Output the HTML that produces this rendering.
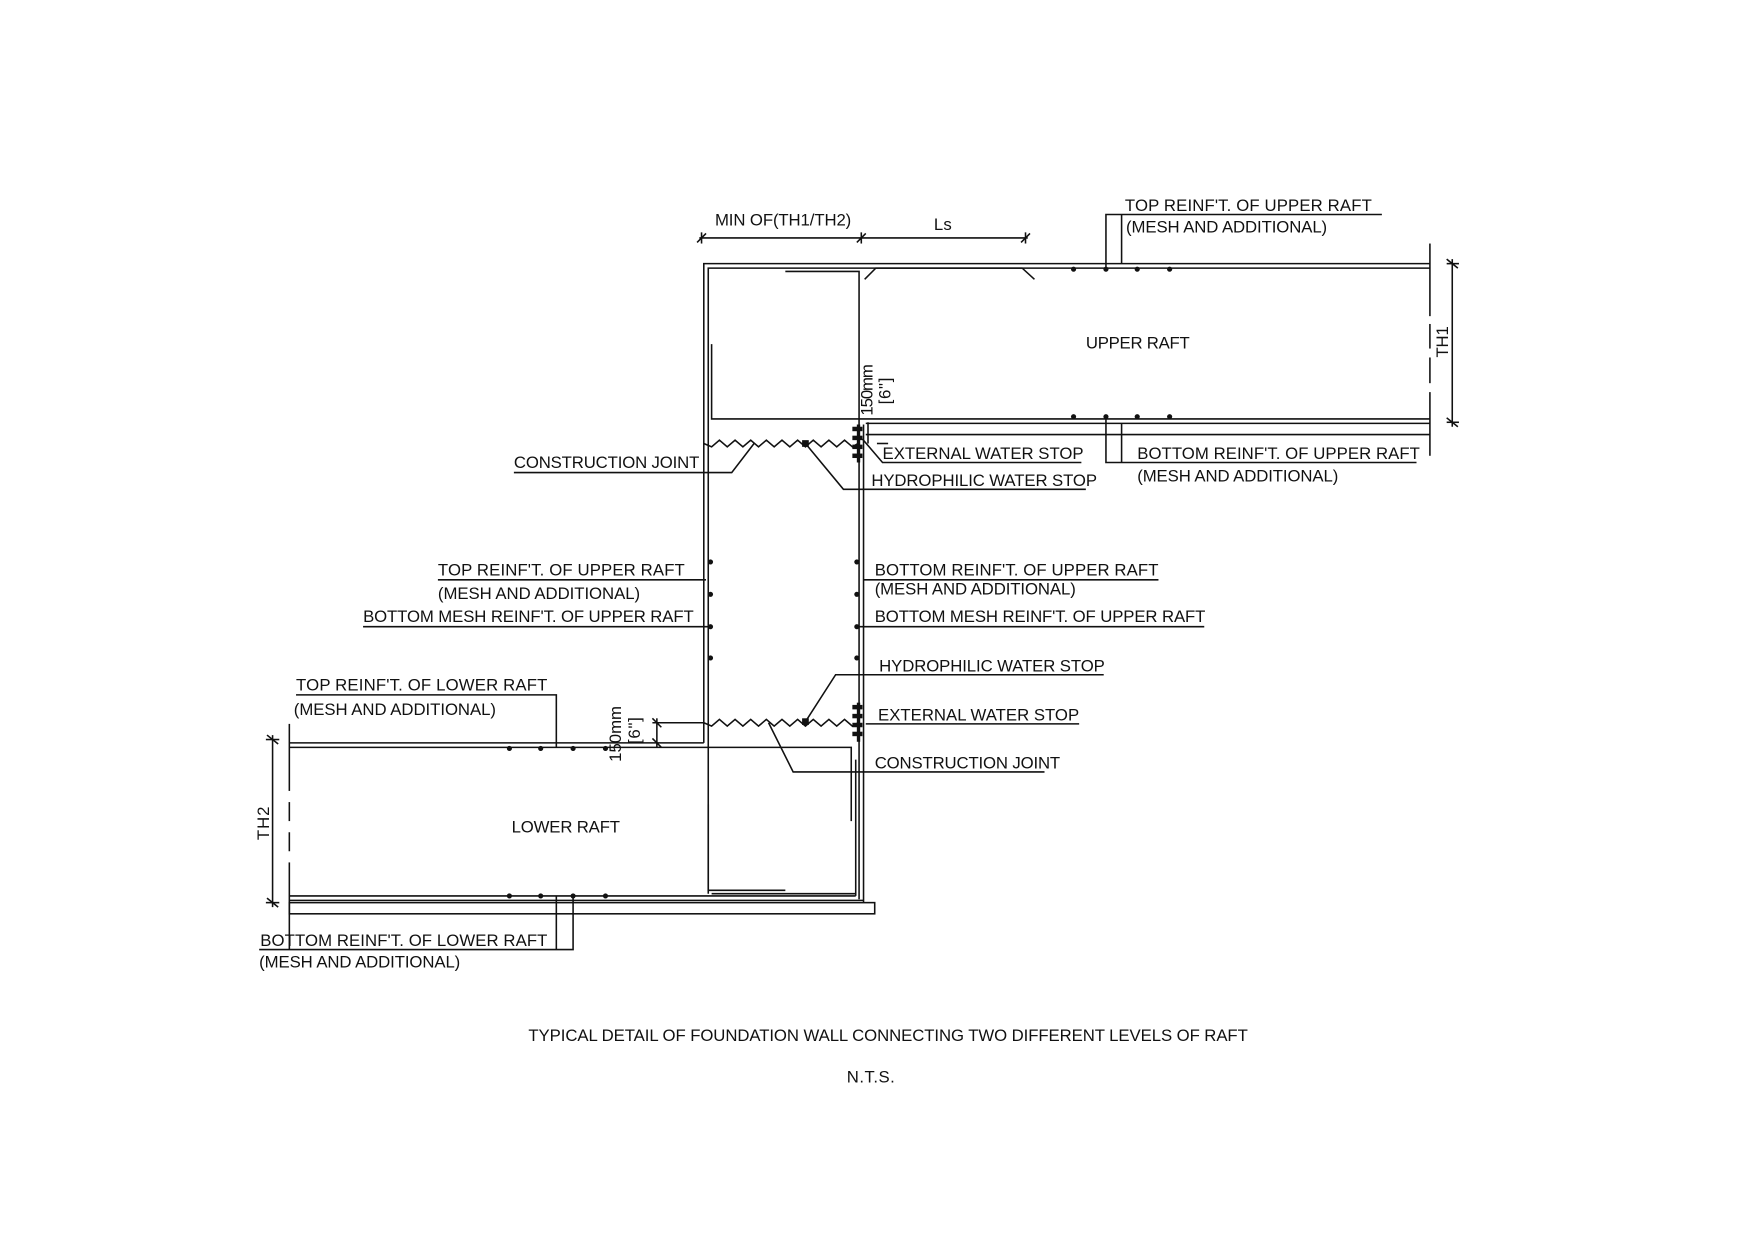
<!DOCTYPE html>
<html><head><meta charset="utf-8"><style>
html,body{margin:0;padding:0;background:#fff}
svg{display:block}
text{font-family:"Liberation Sans",Arial,sans-serif;font-size:15px;fill:#111}
</style></head><body>
<svg width="1755" height="1240" viewBox="0 0 1571 1110" xmlns="http://www.w3.org/2000/svg">
<rect width="1571" height="1110" fill="#fff"/>
<g stroke="#111" stroke-width="1.4" fill="none">
<!-- top dimension -->
<line x1="626" y1="213" x2="920" y2="213"/>
<line x1="624" y1="217" x2="632" y2="209"/><line x1="628" y1="208" x2="628" y2="218"/>
<line x1="767" y1="217" x2="775" y2="209"/><line x1="771" y1="208" x2="771" y2="218"/>
<line x1="914" y1="217" x2="922" y2="209"/><line x1="918" y1="208" x2="918" y2="218"/>
<!-- wall outer left & top -->
<polyline points="630,665 630,236 1280,236"/>
<polyline points="634,800 634,240 1280,240"/>
<!-- inner wall rect upper -->
<polyline points="637,308 637,375 769,375"/>
<polyline points="703,243 769,243 769,380"/>
<!-- top bar with hooks -->
<polyline points="774,250 784,240 915,240 926,250"/>
<!-- upper raft bottom lines -->
<line x1="769" y1="375" x2="1280" y2="375"/>
<line x1="775" y1="379" x2="1280" y2="379"/>
<line x1="775" y1="389" x2="1280" y2="389"/>
<!-- right end dashed -->
<line x1="1280" y1="218" x2="1280" y2="283"/>
<line x1="1280" y1="290" x2="1280" y2="312"/>
<line x1="1280" y1="320" x2="1280" y2="343"/>
<line x1="1280" y1="351" x2="1280" y2="408"/>
<!-- TH1 dim -->
<line x1="1300" y1="232" x2="1300" y2="382"/>
<line x1="1295" y1="232" x2="1305" y2="240"/><line x1="1295" y1="236" x2="1306" y2="236"/>
<line x1="1295" y1="374" x2="1305" y2="382"/><line x1="1295" y1="378" x2="1306" y2="378"/>
<!-- top leader -->
<polyline points="990,241 990,192 1237,192"/>
<line x1="1004" y1="192" x2="1004" y2="236"/>
<!-- bottom leader -->
<polyline points="990,373 990,414 1268,414"/>
<line x1="1004" y1="379" x2="1004" y2="414"/>
<!-- wall right lines -->
<line x1="769" y1="380" x2="769" y2="805"/>
<line x1="773" y1="380" x2="773" y2="808"/>
<!-- upper construction joint -->
<polyline points="630,397 637,400 644,394 651,400 658,394 665,400 672,394 679,400 686,394 693,400 700,394 707,400 714,394 721,400 728,394 735,400 742,394 749,400 756,394 763,400 768,397"/>
<polyline points="675,397 655,423 460,423"/>
<polyline points="721,397 755,438 972,438"/>
<polyline points="772,393 790,414 968,414"/>
<!-- 150mm dim upper -->
<line x1="777" y1="378" x2="777" y2="397"/>
<line x1="785" y1="397" x2="795" y2="397"/>
<!-- lower construction joint -->
<polyline points="630,647 637,650 644,644 651,650 658,644 665,650 672,644 679,650 686,644 693,650 700,644 707,650 714,644 721,650 728,644 735,650 742,644 749,650 756,644 763,650 768,647"/>
<polyline points="721,646 748,604 988,604"/>
<line x1="775" y1="648" x2="966" y2="648"/>
<polyline points="688,647 710,691 935,691"/>
<!-- 150mm dim lower -->
<line x1="584" y1="647" x2="630" y2="647"/>
<line x1="588" y1="643" x2="588" y2="669"/>
<line x1="584" y1="643" x2="592" y2="651"/><line x1="584" y1="661" x2="592" y2="669"/>
<!-- lower raft -->
<line x1="259" y1="665" x2="630" y2="665"/>
<polyline points="259,669 762,669 762,735"/>
<line x1="766" y1="680" x2="766" y2="802"/>
<line x1="259" y1="802" x2="766" y2="802"/>
<line x1="259" y1="806" x2="773" y2="806"/>
<rect x="259" y="808" width="524" height="10"/>
<polyline points="634,720 634,797 703,797"/>
<line x1="637" y1="800" x2="766" y2="800"/>
<!-- left end dashed -->
<line x1="259" y1="648" x2="259" y2="708"/>
<line x1="259" y1="718" x2="259" y2="735"/>
<line x1="259" y1="745" x2="259" y2="762"/>
<line x1="259" y1="772" x2="259" y2="850"/>
<!-- TH2 dim -->
<line x1="244" y1="658" x2="244" y2="812"/>
<line x1="239" y1="658" x2="249" y2="666"/><line x1="238" y1="662" x2="250" y2="662"/>
<line x1="239" y1="804" x2="249" y2="812"/><line x1="238" y1="808" x2="250" y2="808"/>
<!-- lower leaders -->
<polyline points="265,622 498,622 498,669"/>
<polyline points="232,850 513,850 513,802"/>
<line x1="498" y1="802" x2="498" y2="850"/>
<!-- middle leaders -->
<line x1="392" y1="519" x2="632" y2="519"/>
<line x1="325" y1="561" x2="634" y2="561"/>
<line x1="773" y1="519" x2="1037" y2="519"/>
<line x1="767" y1="561" x2="1078" y2="561"/>
</g>
<g fill="#111">
<circle cx="961" cy="241" r="2.3"/><circle cx="990" cy="241" r="2.3"/><circle cx="1018" cy="241" r="2.3"/><circle cx="1047" cy="241" r="2.3"/>
<circle cx="961" cy="373" r="2.3"/><circle cx="990" cy="373" r="2.3"/><circle cx="1018" cy="373" r="2.3"/><circle cx="1047" cy="373" r="2.3"/>
<circle cx="456" cy="670" r="2.3"/><circle cx="484" cy="670" r="2.3"/><circle cx="513" cy="670" r="2.3"/><circle cx="542" cy="670" r="2.3"/>
<circle cx="456" cy="802" r="2.3"/><circle cx="484" cy="802" r="2.3"/><circle cx="513" cy="802" r="2.3"/><circle cx="542" cy="802" r="2.3"/>
<circle cx="636" cy="503" r="2.3"/><circle cx="636" cy="532" r="2.3"/><circle cx="636" cy="561" r="2.3"/><circle cx="636" cy="589" r="2.3"/>
<circle cx="767" cy="503" r="2.3"/><circle cx="767" cy="532" r="2.3"/><circle cx="767" cy="561" r="2.3"/><circle cx="767" cy="589" r="2.3"/>
<rect x="718" y="394" width="6" height="6"/><rect x="718" y="643" width="6" height="6"/>
<rect x="767" y="380" width="3" height="34"/>
<rect x="763" y="382" width="9" height="4"/><rect x="763" y="390" width="9" height="4"/><rect x="763" y="398" width="9" height="4"/><rect x="763" y="406" width="9" height="4"/>
<rect x="767" y="629" width="3" height="35"/>
<rect x="763" y="631" width="9" height="4"/><rect x="763" y="639" width="9" height="4"/><rect x="763" y="647" width="9" height="4"/><rect x="763" y="655" width="9" height="4"/>
</g>
<text x="640" y="202" textLength="122">MIN OF(TH1/TH2)</text>
<text x="836" y="206" textLength="16">Ls</text>
<text x="1007" y="189" textLength="221">TOP  REINF'T. OF UPPER RAFT</text>
<text x="1008" y="208" textLength="180">(MESH AND ADDITIONAL)</text>
<text x="972" y="312" textLength="93">UPPER RAFT</text>
<text transform="translate(1296,320) rotate(-90)" textLength="28">TH1</text>
<text transform="translate(781,372) rotate(-90)" textLength="46">150mm</text>
<text transform="translate(797,362) rotate(-90)" textLength="24">[6"]</text>
<text x="790" y="411" textLength="180">EXTERNAL WATER STOP</text>
<text x="780" y="435" textLength="202">HYDROPHILIC WATER STOP</text>
<text x="460" y="419" textLength="166">CONSTRUCTION JOINT</text>
<text x="1018" y="411" textLength="253">BOTTOM  REINF'T. OF UPPER RAFT</text>
<text x="1018" y="431" textLength="180">(MESH AND ADDITIONAL)</text>
<text x="392" y="515" textLength="221">TOP  REINF'T. OF UPPER RAFT</text>
<text x="392" y="536" textLength="181">(MESH AND ADDITIONAL)</text>
<text x="325" y="557" textLength="296">BOTTOM MESH REINF'T. OF UPPER RAFT</text>
<text x="783" y="515" textLength="254">BOTTOM  REINF'T. OF UPPER RAFT</text>
<text x="783" y="532" textLength="180">(MESH AND ADDITIONAL)</text>
<text x="783" y="557" textLength="296">BOTTOM MESH REINF'T. OF UPPER RAFT</text>
<text x="787" y="601" textLength="202">HYDROPHILIC WATER STOP</text>
<text x="786" y="645" textLength="180">EXTERNAL WATER STOP</text>
<text x="783" y="688" textLength="166">CONSTRUCTION JOINT</text>
<text x="265" y="618" textLength="225">TOP  REINF'T. OF LOWER RAFT</text>
<text x="263" y="640" textLength="181">(MESH AND ADDITIONAL)</text>
<text transform="translate(556,682) rotate(-90)" textLength="50">150mm</text>
<text transform="translate(573,666) rotate(-90)" textLength="24">[6"]</text>
<text x="458" y="745" textLength="97">LOWER RAFT</text>
<text transform="translate(241,752) rotate(-90)" textLength="30">TH2</text>
<text x="233" y="847" textLength="257">BOTTOM  REINF'T. OF LOWER RAFT</text>
<text x="232" y="866" textLength="180">(MESH AND ADDITIONAL)</text>
<text x="473" y="932" textLength="644">TYPICAL DETAIL OF FOUNDATION WALL CONNECTING TWO DIFFERENT LEVELS OF RAFT</text>
<text x="758" y="969" textLength="43">N.T.S.</text>
</svg>
</body></html>
